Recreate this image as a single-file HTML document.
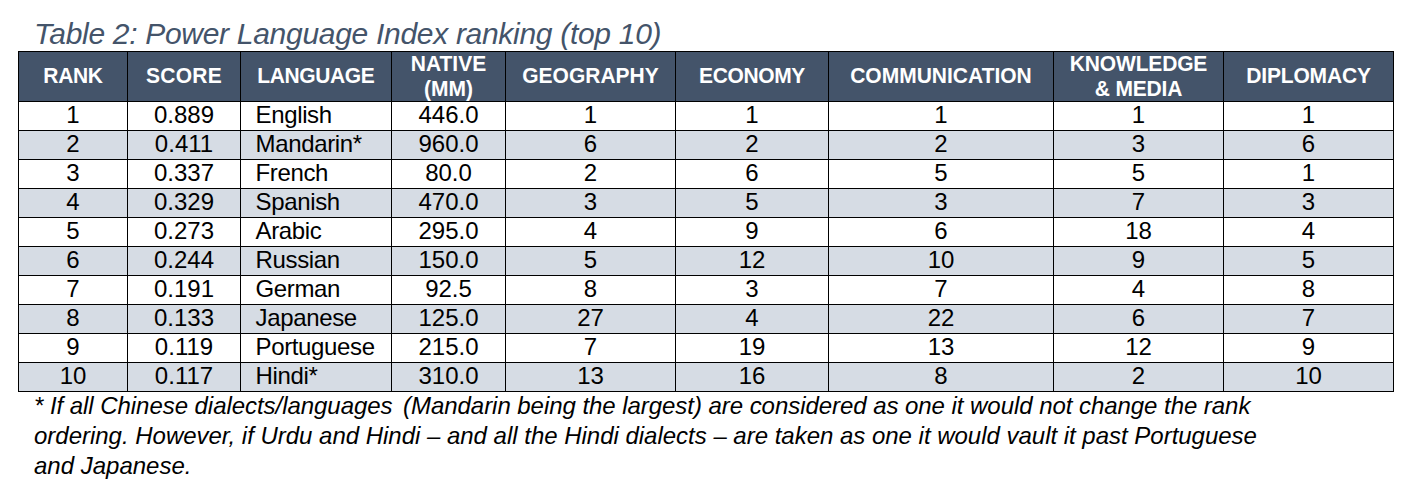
<!DOCTYPE html><html><head><meta charset="utf-8"><title>Power Language Index</title><style>
*{margin:0;padding:0;box-sizing:border-box}
html,body{width:1411px;height:490px;background:#fff;overflow:hidden}
body{position:relative;font-family:"Liberation Sans",Arial,sans-serif;color:#000}
h1{position:absolute;left:34px;top:17.2px;font-size:30px;font-weight:normal;font-style:italic;color:#44546A;white-space:nowrap;line-height:34px;letter-spacing:-0.3px;transform:scaleY(1);transform-origin:0 27.2px}
table{position:absolute;left:18px;top:51px;border-collapse:separate;border-spacing:0;table-layout:fixed;width:1376px}
td,th{border-left:1px solid #000;border-top:1px solid #000;padding:0;white-space:nowrap;text-align:center;vertical-align:middle}
td:last-child,th:last-child{border-right:1px solid #000}
tr:last-child td{border-bottom:1px solid #000}
th{background:#44546A;color:#fff;font-weight:bold;font-size:21px;line-height:22.94px;height:50px;letter-spacing:0px}
th div{height:49px;display:flex;flex-direction:column;justify-content:center;position:relative;top:-0.6px;transform:scaleY(1.09)}
td{font-size:24px;line-height:28px;height:29px;letter-spacing:0px}
td span{position:relative;top:-1px}
tr:last-child td{height:30px}
tr.s td{background:#D6DCE4}
td.l,th.l{text-align:left;padding-left:14.5px}
th.l{padding-left:16.3px}
td.l{letter-spacing:-0.35px}
.gap{display:inline-block;width:4px}
p{position:absolute;left:34px;top:390.5px;width:1370px;font-size:24px;font-style:italic;line-height:29.7px;letter-spacing:0px;white-space:nowrap}
</style></head><body>
<h1>Table 2: Power Language Index ranking (top 10)</h1>
<table><colgroup><col style="width:109px"><col style="width:113px"><col style="width:151px"><col style="width:114px"><col style="width:170px"><col style="width:153px"><col style="width:225px"><col style="width:170px"><col style="width:171px"></colgroup>
<tr><th><div style="letter-spacing:-0.33px">RANK</div></th><th><div style="letter-spacing:0.3px">SCORE</div></th><th class="l"><div style="letter-spacing:-0.38px">LANGUAGE</div></th><th><div>NATIVE<br>(MM)</div></th><th><div>GEOGRAPHY</div></th><th><div style="letter-spacing:-0.35px">ECONOMY</div></th><th><div>COMMUNICATION</div></th><th><div style="letter-spacing:-0.15px">KNOWLEDGE<br>&amp; MEDIA</div></th><th><div style="letter-spacing:-0.16px">DIPLOMACY</div></th></tr>
<tr><td><span>1</span></td><td><span>0.889</span></td><td class="l"><span>English</span></td><td><span>446.0</span></td><td><span>1</span></td><td><span>1</span></td><td><span>1</span></td><td><span>1</span></td><td><span>1</span></td></tr>
<tr class="s"><td><span>2</span></td><td><span>0.411</span></td><td class="l"><span>Mandarin*</span></td><td><span>960.0</span></td><td><span>6</span></td><td><span>2</span></td><td><span>2</span></td><td><span>3</span></td><td><span>6</span></td></tr>
<tr><td><span>3</span></td><td><span>0.337</span></td><td class="l"><span>French</span></td><td><span>80.0</span></td><td><span>2</span></td><td><span>6</span></td><td><span>5</span></td><td><span>5</span></td><td><span>1</span></td></tr>
<tr class="s"><td><span>4</span></td><td><span>0.329</span></td><td class="l"><span>Spanish</span></td><td><span>470.0</span></td><td><span>3</span></td><td><span>5</span></td><td><span>3</span></td><td><span>7</span></td><td><span>3</span></td></tr>
<tr><td><span>5</span></td><td><span>0.273</span></td><td class="l"><span>Arabic</span></td><td><span>295.0</span></td><td><span>4</span></td><td><span>9</span></td><td><span>6</span></td><td><span>18</span></td><td><span>4</span></td></tr>
<tr class="s"><td><span>6</span></td><td><span>0.244</span></td><td class="l"><span>Russian</span></td><td><span>150.0</span></td><td><span>5</span></td><td><span>12</span></td><td><span>10</span></td><td><span>9</span></td><td><span>5</span></td></tr>
<tr><td><span>7</span></td><td><span>0.191</span></td><td class="l"><span>German</span></td><td><span>92.5</span></td><td><span>8</span></td><td><span>3</span></td><td><span>7</span></td><td><span>4</span></td><td><span>8</span></td></tr>
<tr class="s"><td><span>8</span></td><td><span>0.133</span></td><td class="l"><span>Japanese</span></td><td><span>125.0</span></td><td><span>27</span></td><td><span>4</span></td><td><span>22</span></td><td><span>6</span></td><td><span>7</span></td></tr>
<tr><td><span>9</span></td><td><span>0.119</span></td><td class="l"><span>Portuguese</span></td><td><span>215.0</span></td><td><span>7</span></td><td><span>19</span></td><td><span>13</span></td><td><span>12</span></td><td><span>9</span></td></tr>
<tr class="s"><td><span>10</span></td><td><span>0.117</span></td><td class="l"><span>Hindi*</span></td><td><span>310.0</span></td><td><span>13</span></td><td><span>16</span></td><td><span>8</span></td><td><span>2</span></td><td><span>10</span></td></tr>
</table>
<p><span style="letter-spacing:-0.05px">* If all Chinese dialects/languages <span class="gap"></span>(Mandarin being the largest) are considered as one it would not change the rank</span><br><span style="letter-spacing:-0.015px;position:relative;top:1px">ordering. However, if Urdu and Hindi &ndash; and all the Hindi dialects &ndash; are taken as one it would vault it past Portuguese</span><br><span style="position:relative;top:1px">and Japanese.</span></p>
</body></html>
